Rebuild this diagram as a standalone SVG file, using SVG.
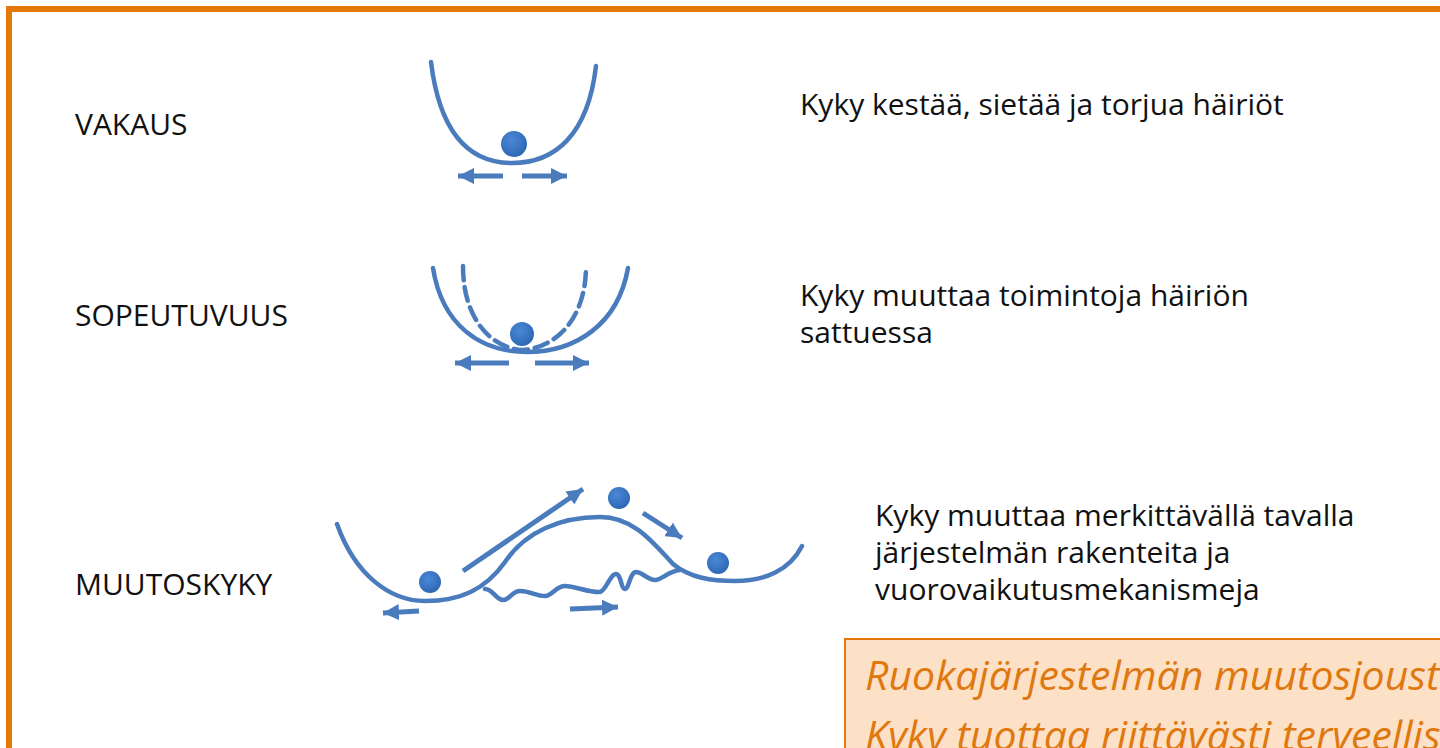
<svg xmlns="http://www.w3.org/2000/svg" width="1440" height="748" viewBox="0 0 1440 748">
<style>
.lbl{font-family:"Open Sans","Noto Sans","Liberation Sans",sans-serif;font-size:30px;fill:#111}
.curve{fill:none;stroke:#4A7CBD;stroke-width:4.5;stroke-linecap:round;stroke-linejoin:round}
.arr{fill:none;stroke:#4A7CBD;stroke-width:5;marker-end:url(#ah)}
.ball{fill:url(#bg)}
.note{font-family:"Open Sans","Noto Sans","Liberation Sans",sans-serif;font-style:italic;font-size:41px;fill:#E07810}
</style>
<defs>
<marker id="ah" markerUnits="userSpaceOnUse" markerWidth="17" markerHeight="16" viewBox="0 0 17 16" refX="16" refY="8" orient="auto">
<path d="M0,0 L16,8 L0,16 Z" fill="#4A7CBD"/>
</marker>
<radialGradient id="bg" cx="0.4" cy="0.35" r="0.7">
<stop offset="0" stop-color="#4A88D6"/>
<stop offset="1" stop-color="#2C66B2"/>
</radialGradient>
</defs>
<rect x="0" y="0" width="1440" height="748" fill="#fff"/>
<rect id="frame" x="9" y="9" width="1500" height="800" fill="none" stroke="#E2790A" stroke-width="6"/>

<g id="vakaus">
<text class="lbl" x="75" y="135">VAKAUS</text>
<path class="curve" d="M431,62 C440,135 470,163 512,163 C555,163 588,135 596,66"/>
<circle class="ball" cx="514" cy="144" r="13"/>
<text class="lbl" x="800" y="115">Kyky kestää, sietää ja torjua häiriöt</text>
</g>

<g id="sopeutuvuus">
<text class="lbl" x="75" y="326">SOPEUTUVUUS</text>
<path class="curve" d="M433,268 C442,325 480,352 527,352 C575,352 618,325 628,268"/>
<path class="curve" stroke-dasharray="14 7" stroke-linecap="butt" d="M463,266 C463,320 492,348 522,350 C555,348 586,320 586,266"/>
<circle class="ball" cx="522" cy="334" r="12"/>
<text class="lbl" x="800" y="306">Kyky muuttaa toimintoja häiriön</text>
<text class="lbl" x="800" y="343">sattuessa</text>
</g>

<g id="muutoskyky">
<text class="lbl" x="75" y="595">MUUTOSKYKY</text>
<path class="curve" d="M337,524 C355,575 390,601 425,601 C460,601 485,590 505,562 C525,532 560,517 600,517 C635,517 655,545 673,564 C690,578 712,581 735,581 C765,581 790,570 802,546"/>
<path class="curve" stroke-width="3.5" d="M485,589 C492,588 496,600 503,600 C510,600 512,591 520,591 C530,591 536,596 545,596 C552,596 556,586 565,586 C575,586 590,593 600,592 C606,591 610,574 616,574 C621,574 621,589 625,589 C629,589 630,572 636,572 C642,572 648,580 655,580 C662,580 668,571 680,570"/>
<circle class="ball" cx="430" cy="582" r="11"/>
<circle class="ball" cx="619" cy="498" r="11"/>
<circle class="ball" cx="718" cy="563" r="11"/>
<text class="lbl" x="875" y="526">Kyky muuttaa merkittävällä tavalla</text>
<text class="lbl" x="875" y="563">järjestelmän rakenteita ja</text>
<text class="lbl" x="875" y="600">vuorovaikutusmekanismeja</text>
</g>

<g id="connectors">
<path class="arr" d="M503,176 L458,176"/>
<path class="arr" d="M522,176 L567,176"/>
<path class="arr" d="M509,363 L455,363"/>
<path class="arr" d="M535,363 L589,363"/>
<path class="arr" stroke-width="4.5" d="M463,571 L583,489"/>
<path class="arr" d="M643,513 L682,538"/>
<path class="arr" d="M419,611 L383,613"/>
<path class="arr" d="M570,609 L618,607"/>
</g>

<g id="note">
<rect x="845" y="639" width="700" height="200" fill="#FDE1C6" stroke="#E2790A" stroke-width="2"/>
<text class="note" x="865" y="690">Ruokajärjestelmän muutosjoust</text>
<text class="note" x="865" y="750">Kyky tuottaa riittävästi terveellis</text>
</g>
</svg>
